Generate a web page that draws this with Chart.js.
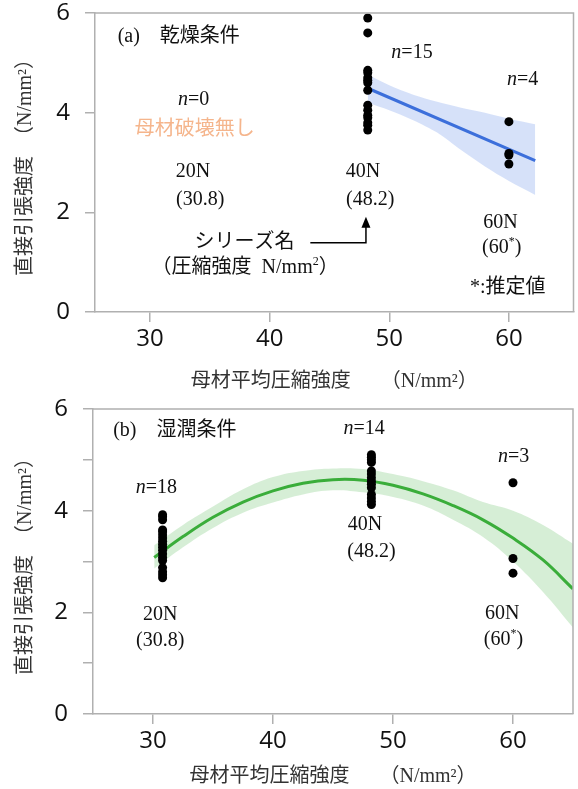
<!DOCTYPE html>
<html>
<head>
<meta charset="utf-8">
<script src="https://cdn.jsdelivr.net/npm/chart.js@4.4.0/dist/chart.umd.min.js"></script>
<style>
body { margin: 0; background: #fff; }
.box { position: absolute; left: 0; width: 578px; }
</style>
</head>
<body>
<div class="box" style="top:0;height:395px"><canvas id="chartDry" width="578" height="395"></canvas></div>
<div class="box" style="top:395px;height:394px"><canvas id="chartWet" width="578" height="394"></canvas></div>
<script>
// (a) 乾燥条件
var dryStrength = [48.2, 60];
var dry40 = [5.9, 5.6, 4.85, 4.8, 4.7, 4.65, 4.6, 4.45, 4.15, 4.05, 3.95, 3.9, 3.8, 3.75, 3.65];
var dry60 = [3.82, 3.18, 3.15, 2.97];
var dryFitX = [48.2, 62.2];
var dryFitY = [4.49, 3.04];
var dryBandX = [48.2, 50, 52, 54, 56, 58, 60, 62.2];
var dryBandHi = [4.76, 4.55, 4.36, 4.22, 4.10, 4.00, 3.88, 3.77];
var dryBandLo = [4.20, 4.05, 3.85, 3.60, 3.25, 2.92, 2.63, 2.35];

// (b) 湿潤条件
var wetStrength = [30.8, 48.2, 60];
var wet20 = [3.92, 3.88, 3.82, 3.62, 3.58, 3.52, 3.46, 3.40, 3.34, 3.28, 3.22, 3.15, 3.08, 3.02, 2.88, 2.80, 2.74, 2.68];
var wet40 = [5.10, 5.05, 5.00, 4.95, 4.78, 4.72, 4.65, 4.58, 4.52, 4.45, 4.32, 4.25, 4.18, 4.12];
var wet60 = [4.55, 3.06, 2.77];
var wetCurveX = [30.1, 32.5, 35, 37.5, 40, 42.5, 45, 47.5, 50, 52.5, 55, 57.5, 60, 62.5, 65];
var wetCurveY = [3.08, 3.49, 3.87, 4.17, 4.39, 4.54, 4.61, 4.60, 4.50, 4.33, 4.10, 3.82, 3.46, 3.03, 2.46];
var wetBandHi = [3.32, 3.72, 4.08, 4.42, 4.66, 4.78, 4.83, 4.82, 4.72, 4.58, 4.40, 4.17, 4.00, 3.72, 3.35];
var wetBandLo = [2.86, 3.28, 3.66, 3.96, 4.16, 4.32, 4.40, 4.36, 4.27, 4.10, 3.82, 3.48, 3.00, 2.40, 1.70];

// 軸
var xTicks = [30, 40, 50, 60];
var yTicksDry = [0, 2, 4, 6];
var yTicksWet = [0, 1, 2, 3, 4, 5, 6];
var xTitle = '母材平均圧縮強度　  （N/mm²）';
var yTitle = '直接引張強度　（N/mm²）';

var serif = "'Liberation Serif', 'Noto Sans CJK JP', serif";
var axisGray = '#b0b0b0';

function pts(x, ys) { return ys.map(function (y) { return { x: x, y: y }; }); }
function xy(xs, ys) { return xs.map(function (x, i) { return { x: x, y: ys[i] }; }); }

function rich(ctx, parts, cx, cy, size, color) {
  function f(s) { return (s === 'i' ? 'italic ' : '') + (s === 'sup' ? Math.round(size * 0.62) : size) + 'px ' + serif; }
  var w = 0;
  parts.forEach(function (p) { ctx.font = f(p[1]); w += ctx.measureText(p[0]).width; });
  var x = cx - w / 2;
  ctx.fillStyle = color || '#111';
  ctx.textBaseline = 'middle';
  ctx.textAlign = 'left';
  parts.forEach(function (p) {
    ctx.font = f(p[1]);
    ctx.fillText(p[0], x, p[1] === 'sup' ? cy - size * 0.32 : cy);
    x += ctx.measureText(p[0]).width;
  });
}

function notesPlugin(notes, arrow) {
  return {
    id: 'notes',
    afterDraw: function (chart) {
      var ctx = chart.ctx, xs = chart.scales.x, ys = chart.scales.y, a = chart.chartArea;
      ctx.save();
      ctx.strokeStyle = axisGray;
      ctx.lineWidth = 1.5;
      ctx.beginPath();
      ctx.moveTo(a.left, a.top);
      ctx.lineTo(a.right, a.top);
      ctx.lineTo(a.right, a.bottom);
      ctx.stroke();
      notes.forEach(function (n) {
        rich(ctx, n.parts, xs.getPixelForValue(n.x), ys.getPixelForValue(n.y), n.size || 20, n.color);
      });
      if (arrow) {
        var x0 = xs.getPixelForValue(arrow.x0), x1 = xs.getPixelForValue(arrow.x1);
        var y0 = ys.getPixelForValue(arrow.y0), y1 = ys.getPixelForValue(arrow.y1);
        ctx.strokeStyle = '#000';
        ctx.lineWidth = 1.5;
        ctx.beginPath();
        ctx.moveTo(x0, y0);
        ctx.lineTo(x1, y0);
        ctx.lineTo(x1, y1 + 8);
        ctx.stroke();
        ctx.fillStyle = '#000';
        ctx.beginPath();
        ctx.moveTo(x1, y1);
        ctx.lineTo(x1 - 4.5, y1 + 11);
        ctx.lineTo(x1 + 4.5, y1 + 11);
        ctx.closePath();
        ctx.fill();
      }
      ctx.restore();
    }
  };
}

function makeScales(o) {
  return {
    x: {
      type: 'linear', min: o.xMin, max: o.xMax,
      afterBuildTicks: function (s) { s.ticks = xTicks.map(function (v) { return { value: v }; }); },
      afterFit: function (s) { s.height = o.xHeight; s.paddingLeft = 0; s.paddingRight = 0; },
      ticks: { font: { family: "'Open Sans', sans-serif", size: 24 }, color: '#111', padding: 3 },
      grid: { drawOnChartArea: false, tickLength: 10, color: axisGray, lineWidth: 1.5 },
      border: { color: axisGray, width: 1.5 },
      title: { display: true, text: xTitle, color: '#333', font: { family: serif, size: 20 }, padding: { top: 0, bottom: o.xTitlePad } }
    },
    y: {
      type: 'linear', min: 0, max: 6,
      afterBuildTicks: function (s) { s.ticks = o.yTicks.map(function (v) { return { value: v }; }); },
      afterFit: function (s) { s.width = o.yWidth; s.paddingTop = 0; s.paddingBottom = 0; },
      ticks: {
        font: { family: "'Open Sans', sans-serif", size: 24 }, color: '#111', padding: 15,
        callback: function (v) { return v % 2 === 0 ? v : ''; }
      },
      grid: { drawOnChartArea: false, tickLength: 10, color: axisGray, lineWidth: 1.5 },
      border: { color: axisGray, width: 1.5 },
      title: { display: true, text: yTitle, color: '#333', font: { family: serif, size: 20 }, padding: { top: 14, bottom: 0 } }
    }
  };
}

var common = {
  responsive: false,
  animation: false,
  devicePixelRatio: 1,
  events: [],
  plugins: { legend: { display: false }, tooltip: { enabled: false } }
};

// (a)
var notesDry = [
  { x: 32.4, y: 5.52, parts: [['(a)　乾燥条件', '']] },
  { x: 51.9, y: 5.2, parts: [['n', 'i'], ['=15', '']] },
  { x: 61.15, y: 4.66, parts: [['n', 'i'], ['=4', '']] },
  { x: 33.65, y: 4.25, parts: [['n', 'i'], ['=0', '']] },
  { x: 33.74, y: 3.65, parts: [['母材破壊無し', '']], color: '#f5b58c' },
  { x: 33.6, y: 2.82, parts: [['20N', '']] },
  { x: 34.2, y: 2.25, parts: [['(30.8)', '']] },
  { x: 47.8, y: 2.82, parts: [['40N', '']] },
  { x: 48.4, y: 2.25, parts: [['(48.2)', '']] },
  { x: 59.3, y: 1.79, parts: [['60N', '']] },
  { x: 59.4, y: 1.28, parts: [['(60', ''], ['*', 'sup'], [')', '']] },
  { x: 59.9, y: 0.48, parts: [['*:推定値', '']] },
  { x: 37.9, y: 1.39, parts: [['シリーズ名', '']] },
  { x: 37.95, y: 0.88, parts: [['（圧縮強度  N/mm', ''], ['2', 'sup'], ['）', '']] }
];

new Chart(document.getElementById('chartDry'), {
  type: 'scatter',
  data: {
    datasets: [
      { type: 'scatter', data: pts(dryStrength[0], dry40).concat(pts(dryStrength[1], dry60)), pointRadius: 4.5, backgroundColor: '#000', borderWidth: 0 },
      { type: 'line', data: xy(dryFitX, dryFitY), borderColor: '#3c6fdb', borderWidth: 3, pointRadius: 0, fill: false },
      { type: 'line', data: xy(dryBandX, dryBandHi), borderWidth: 0, pointRadius: 0, backgroundColor: 'rgba(120,155,235,0.3)', fill: '+1', tension: 0.3 },
      { type: 'line', data: xy(dryBandX, dryBandLo), borderWidth: 0, pointRadius: 0, fill: false, tension: 0.3 }
    ]
  },
  options: Object.assign({}, common, {
    layout: { padding: { top: 13, right: 2, left: 0, bottom: 0 } },
    scales: makeScales({ xMin: 25.4, xMax: 65.4, xHeight: 83, yWidth: 95, yTicks: yTicksDry, xTitlePad: 1 })
  }),
  plugins: [notesPlugin(notesDry, { x0: 43.4, x1: 48.05, y0: 1.39, y1: 1.91 })]
});

// (b)
var notesWet = [
  { x: 31.82, y: 5.57, parts: [['(b)　湿潤条件', '']] },
  { x: 47.6, y: 5.62, parts: [['n', 'i'], ['=14', '']] },
  { x: 60.06, y: 5.06, parts: [['n', 'i'], ['=3', '']] },
  { x: 30.28, y: 4.45, parts: [['n', 'i'], ['=18', '']] },
  { x: 47.66, y: 3.72, parts: [['40N', '']] },
  { x: 48.2, y: 3.19, parts: [['(48.2)', '']] },
  { x: 30.6, y: 1.96, parts: [['20N', '']] },
  { x: 30.6, y: 1.44, parts: [['(30.8)', '']] },
  { x: 59.1, y: 1.98, parts: [['60N', '']] },
  { x: 59.2, y: 1.46, parts: [['(60', ''], ['*', 'sup'], [')', '']] }
];

new Chart(document.getElementById('chartWet'), {
  type: 'scatter',
  data: {
    datasets: [
      { type: 'scatter', data: pts(wetStrength[0], wet20).concat(pts(wetStrength[1], wet40), pts(wetStrength[2], wet60)), pointRadius: 4.5, backgroundColor: '#000', borderWidth: 0 },
      { type: 'line', data: xy(wetCurveX, wetCurveY), borderColor: '#3aad3a', borderWidth: 3, pointRadius: 0, fill: false, tension: 0.4 },
      { type: 'line', data: xy(wetCurveX, wetBandHi), borderWidth: 0, pointRadius: 0, backgroundColor: 'rgba(120,200,120,0.3)', fill: '+1', tension: 0.4 },
      { type: 'line', data: xy(wetCurveX, wetBandLo), borderWidth: 0, pointRadius: 0, fill: false, tension: 0.4 }
    ]
  },
  options: Object.assign({}, common, {
    layout: { padding: { top: 14, right: 5, left: 0, bottom: 0 } },
    scales: makeScales({ xMin: 25, xMax: 65, xHeight: 75, yWidth: 93, yTicks: yTicksWet, xTitlePad: 0 })
  }),
  plugins: [notesPlugin(notesWet, null)]
});
</script>
</body>
</html>
